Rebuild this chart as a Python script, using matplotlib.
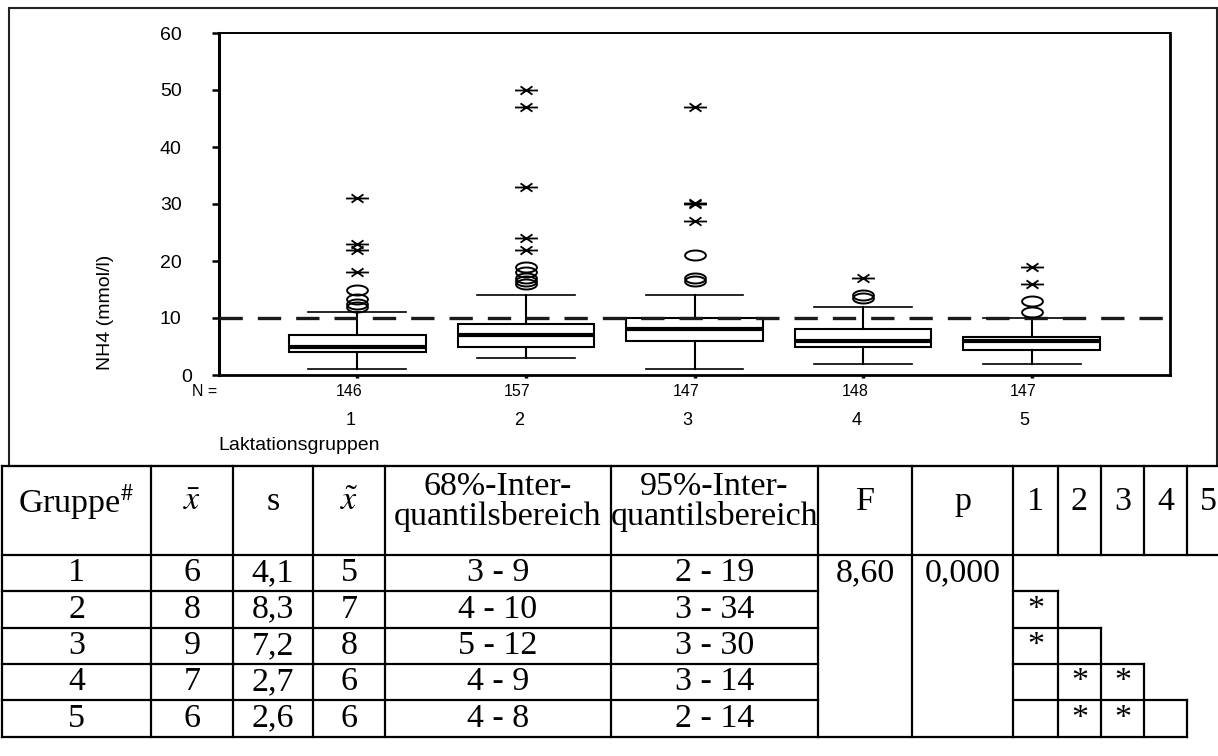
import numpy as np
import matplotlib
matplotlib.use('Agg')
import matplotlib.pyplot as plt
from matplotlib.path import Path
from matplotlib.patches import Rectangle

plt.rcParams.update({
    'font.family': 'Liberation Sans',
    'mathtext.fontset': 'stix',
})

# chart data
groups = [1, 2, 3, 4, 5]
n_counts = [146, 157, 147, 148, 147]
whisk_lo = [1, 3, 1, 2, 2]
q1 = [4, 5, 6, 5, 4.4]
medians = [5, 7, 8, 6, 6]
q3 = [7, 9, 10, 8, 6.7]
whisk_hi = [11, 14, 14, 12, 10]
outliers = [[12, 12.4, 13.4, 15], [16, 16.5, 17, 18, 19], [16.5, 17, 21], [13.5, 14], [11, 13]]
extremes = [[18, 22, 23, 31], [22, 24, 33, 47, 50], [27, 30, 30.2, 47], [17], [16, 19]]
ref_level = 10
y_ticks = [0, 10, 20, 30, 40, 50, 60]

# table data
tab_groups = ['1', '2', '3', '4', '5']
tab_mean = ['6', '8', '9', '7', '6']
tab_sd = ['4,1', '8,3', '7,2', '2,7', '2,6']
tab_median = ['5', '7', '8', '6', '6']
tab_iq68 = ['3 - 9', '4 - 10', '5 - 12', '4 - 9', '4 - 8']
tab_iq95 = ['2 - 19', '3 - 34', '3 - 30', '3 - 14', '2 - 14']
f_value = '8,60'
p_value = '0,000'
sig_pairs = [(2, 1), (3, 1), (4, 2), (4, 3), (5, 2), (5, 3)]

W, H = 1218, 756
fig = plt.figure(figsize=(W / 100, H / 100), dpi=100)

# background layer in pixel coords: frame, table, loose labels
tax = fig.add_axes([0, 0, 1, 1])
tax.set_xlim(0, W)
tax.set_ylim(H, 0)
tax.axis('off')
tax.patch.set_visible(False)

frame_bottom = 466
tax.add_patch(Rectangle((9, 8), 1208, frame_bottom - 8, fill=False, lw=1.5, ec='#222222'))

ax = fig.add_axes([219 / W, 1 - 375 / H, 951 / W, 342 / H])

stats = []
for i in range(len(groups)):
    stats.append({'med': medians[i], 'q1': q1[i], 'q3': q3[i],
                  'whislo': whisk_lo[i], 'whishi': whisk_hi[i], 'fliers': []})
ax.bxp(stats, positions=groups, widths=0.81, capwidths=0.58, showfliers=False,
       patch_artist=True,
       boxprops=dict(facecolor='white', edgecolor='black', lw=1.5),
       medianprops=dict(color='black', lw=3),
       whiskerprops=dict(color='black', lw=1.5),
       capprops=dict(color='black', lw=1.2))

t = np.linspace(0, 2 * np.pi, 41)
oval = Path(np.column_stack([np.cos(t), 0.48 * np.sin(t)]), closed=True)
star = Path([(-1, 0), (1, 0), (-0.52, -0.36), (0.52, 0.36), (-0.52, 0.36), (0.52, -0.36)],
            [Path.MOVETO, Path.LINETO, Path.MOVETO, Path.LINETO, Path.MOVETO, Path.LINETO])

for g, vals in zip(groups, outliers):
    ax.plot([g] * len(vals), vals, ls='none', marker=oval, ms=15, mfc='none',
            mec='black', mew=1.4, zorder=5)
for g, vals in zip(groups, extremes):
    ax.plot([g] * len(vals), vals, ls='none', marker=star, ms=16.5,
            mec='black', mew=1.3, zorder=5)

ax.axhline(ref_level, color='#1a1a1a', lw=2.4, dashes=(7, 4.5), zorder=4)

ax.set_xlim(0.18, 5.82)
ax.set_ylim(0, 60)
ax.set_yticks(y_ticks)
ax.set_yticklabels([str(v) for v in y_ticks])
ax.tick_params(axis='y', length=5, width=1.8, pad=22, labelsize=14)
ax.set_xticks(groups)
ax.set_xticklabels([''] * len(groups))
ax.tick_params(axis='x', length=2.5, width=2.5)
ax.get_yticklabels()[0].set_horizontalalignment('left')
ax.spines['left'].set_linewidth(2.2)
ax.spines['bottom'].set_linewidth(2)
ax.spines['top'].set_linewidth(1.4)
ax.spines['right'].set_linewidth(2)

for g, n in zip(groups, n_counts):
    ax.annotate(str(n), xy=(g, 0), xycoords=('data', 'axes fraction'),
                xytext=(-6, -12), textcoords='offset points',
                ha='center', va='center', fontsize=11.5)
    ax.annotate(str(g), xy=(g, 0), xycoords=('data', 'axes fraction'),
                xytext=(-5, -32.5), textcoords='offset points',
                ha='center', va='center', fontsize=13)

tax.text(217, 391, 'N =', ha='right', va='center', fontsize=11.5)
tax.text(105, 312, 'NH4 (mmol/l)', rotation=90, ha='center', va='center', fontsize=14)
tax.text(218, 445, 'Laktationsgruppen', ha='left', va='center', fontsize=14)

# ---- table ----
col_edges = [2, 151, 233, 313, 385, 611, 818, 912, 1013, 1058, 1101, 1144, 1187, 1229]
row_edges = [frame_bottom, 555, 591, 628, 664, 700, 737]
lw_t = 1.6
kw = dict(color='black', lw=lw_t, solid_capstyle='projecting', clip_on=False)

tax.plot([2, W], [row_edges[0], row_edges[0]], **kw)
tax.plot([2, W], [row_edges[1], row_edges[1]], **kw)
for y in row_edges[2:6]:
    tax.plot([col_edges[0], col_edges[6]], [y, y], **kw)
tax.plot([col_edges[0], col_edges[6]], [row_edges[6], row_edges[6]], **kw)
for x in col_edges[:9]:
    tax.plot([x, x], [row_edges[0], row_edges[6]], **kw)
tax.plot([col_edges[6], col_edges[8]], [row_edges[6], row_edges[6]], **kw)
for k in range(4):
    x = col_edges[9 + k]
    tax.plot([x, x], [row_edges[0], row_edges[1]], **kw)
    tax.plot([x, x], [row_edges[2 + k], row_edges[6]], **kw)
    tax.plot([col_edges[8], x], [row_edges[2 + k], row_edges[2 + k]], **kw)
tax.plot([col_edges[8], col_edges[12]], [row_edges[6], row_edges[6]], **kw)

serif = dict(family='Liberation Serif', fontsize=24.5, ha='center', va='center')
cx = [(col_edges[i] + col_edges[i + 1]) / 2 for i in range(len(col_edges) - 1)]
hy = 502

tax.text(cx[0], hy, 'Gruppe$^{\\#}$', **serif)
tax.text(cx[1], hy, '$\\bar{x}$', **serif)
tax.text(cx[2], hy, 's', **serif)
tax.text(cx[3], hy, '$\\tilde{x}$', **serif)
tax.text(cx[4], 487, '68%-Inter-', **serif)
tax.text(cx[4], 516, 'quantilsbereich', **serif)
tax.text(cx[5], 487, '95%-Inter-', **serif)
tax.text(cx[5], 516, 'quantilsbereich', **serif)
tax.text(cx[6], hy, 'F', **serif)
tax.text(cx[7], hy, 'p', **serif)
for k, g in enumerate(tab_groups):
    tax.text(cx[8 + k], hy, g, **serif)

for r in range(5):
    y = (row_edges[r + 1] + row_edges[r + 2]) / 2
    for c, col in enumerate([tab_groups, tab_mean, tab_sd, tab_median, tab_iq68, tab_iq95]):
        tax.text(cx[c], y, col[r], **serif)
y1 = (row_edges[1] + row_edges[2]) / 2
tax.text(cx[6], y1, f_value, **serif)
tax.text(cx[7], y1, p_value, **serif)
for a, b in sig_pairs:
    y = (row_edges[a] + row_edges[a + 1]) / 2
    tax.text(cx[7 + b], y, '*', **serif)

fig.savefig('out.png', dpi=100)
